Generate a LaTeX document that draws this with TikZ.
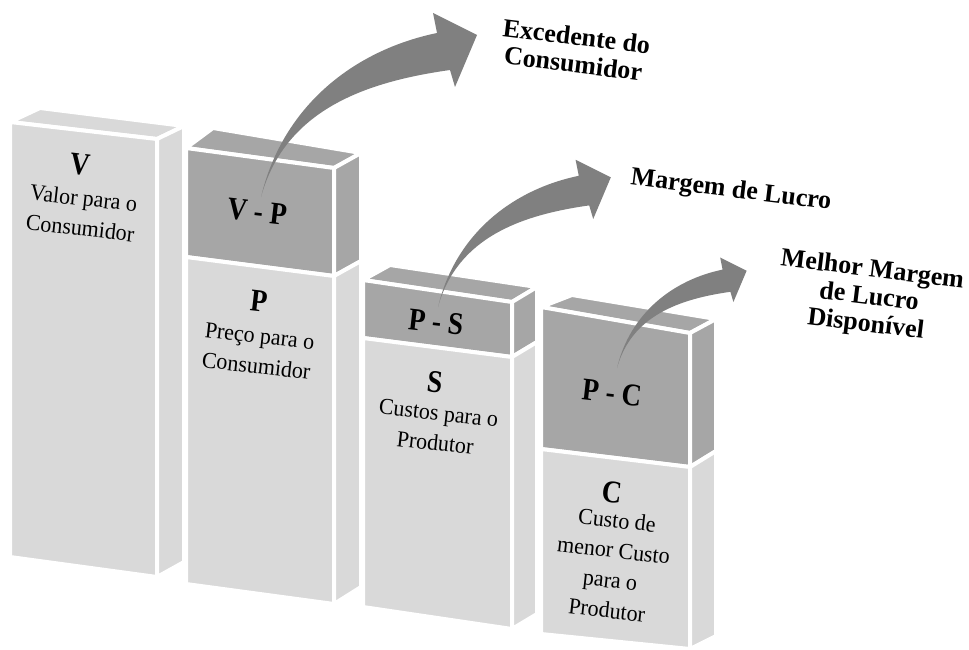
\documentclass[tikz,border=0pt]{standalone}
\usepackage{fontspec}
\setmainfont{Liberation Serif}
\definecolor{barlight}{HTML}{D9D9D9}
\definecolor{bardark}{HTML}{A6A6A6}
\definecolor{arrowgray}{HTML}{808080}
\tikzset{
  % tapered block arrow, tail at the origin, head up and to the right
  curvedarrow/.pic={
    \fill[arrowgray] (0,0) .. controls (22,-92) and (94,-147) .. (176,-164)
      -- (172,-184) -- (216,-162) -- (194,-110) -- (189,-127)
      .. controls (104,-115) and (24,-87) .. (0,0) -- cycle;
  }
}
\begin{document}
\begin{tikzpicture}[x=1pt,y=-1pt,
  face/.style={draw=white, line width=4pt, line join=round},
  lightface/.style={face, fill=barlight},
  darkface/.style={face, fill=bardark},
  letter/.style={font=\bfseries\fontsize{27.5}{27.5}\selectfont, rotate=-6.5, yscale=1.15, inner sep=0pt},
  desc/.style={font=\fontsize{22}{29}\selectfont, align=center, rotate=-6.5, yscale=1.04, inner sep=0pt},
  outcome/.style={font=\bfseries\fontsize{26}{27.5}\selectfont, align=center, rotate=-7, inner sep=0pt}
]
\fill[white] (0,0) rectangle (969,650);
\useasboundingbox (0,0) rectangle (969,650);

% bar V
\filldraw[lightface] (10,122) -- (157,139) -- (184,126) -- (40,108) -- cycle;
\filldraw[lightface] (10,122) -- (157,139) -- (157,577) -- (10,557) -- cycle;
\filldraw[lightface] (157,139) -- (184,126) -- (184,562) -- (157,577) -- cycle;

% bar P with V - P on top
\filldraw[darkface] (186,148) -- (334,168) -- (361,153) -- (213,128) -- cycle;
\filldraw[darkface] (186,148) -- (334,168) -- (334,276) -- (186,257) -- cycle;
\filldraw[darkface] (334,168) -- (361,153) -- (361,261) -- (334,276) -- cycle;
\filldraw[lightface] (186,257) -- (334,276) -- (334,604) -- (186,584) -- cycle;
\filldraw[lightface] (334,276) -- (361,261) -- (361,587) -- (334,604) -- cycle;

% bar S with P - S on top
\filldraw[darkface] (363,280) -- (512,302) -- (537,287) -- (390,265) -- cycle;
\filldraw[darkface] (363,280) -- (512,302) -- (512,357) -- (363,338) -- cycle;
\filldraw[darkface] (512,302) -- (537,287) -- (537,342) -- (512,357) -- cycle;
\filldraw[lightface] (363,338) -- (512,357) -- (512,629) -- (363,607) -- cycle;
\filldraw[lightface] (512,357) -- (537,342) -- (537,614) -- (512,629) -- cycle;

% bar C with P - C on top
\filldraw[darkface] (541,307) -- (690,333) -- (716,319) -- (572,295) -- cycle;
\filldraw[darkface] (541,307) -- (690,333) -- (690,467) -- (541,449) -- cycle;
\filldraw[darkface] (690,333) -- (716,319) -- (716,451) -- (690,467) -- cycle;
\filldraw[lightface] (541,449) -- (690,467) -- (690,649) -- (541,634) -- cycle;
\filldraw[lightface] (690,467) -- (716,451) -- (716,636) -- (690,649) -- cycle;

% arrows out of the top blocks
\pic[shift={(261,197)}] {curvedarrow};
\pic[shift={(438,307)}, scale=0.8] {curvedarrow};
\pic[shift={(617,368)}, scale=0.6] {curvedarrow};

% labels on the bars
\node[letter] (lv) at (80,165) {V};
\node[desc] (dv) at (82,213) {Valor para o\\Consumidor};
\node[letter] (lvp) at (257,212) {V - P};
\node[letter] (lp) at (259,301) {P};
\node[desc] (dp) at (258,351) {Preço para o\\Consumidor};
\node[letter] (lps) at (436,322) {P - S};
\node[letter] (ls) at (435,382) {S};
\node[desc] (ds) at (437,428) {Custos para o\\Produtor};
\node[letter] (lpc) at (612,393) {P - C};
\node[letter] (lc) at (612,492) {C};
\node[desc] (dc) at (612,565) {Custo de\\menor Custo\\para o\\Produtor};

% outcomes
\node[outcome] (oe) at (575,50) {Excedente do\\Consumidor};
\node[outcome] (om) at (731,191) {Margem de Lucro};
\node[outcome] (ob) at (869,298) {Melhor Margem\\de Lucro\\Disponível};
\end{tikzpicture}
\end{document}
